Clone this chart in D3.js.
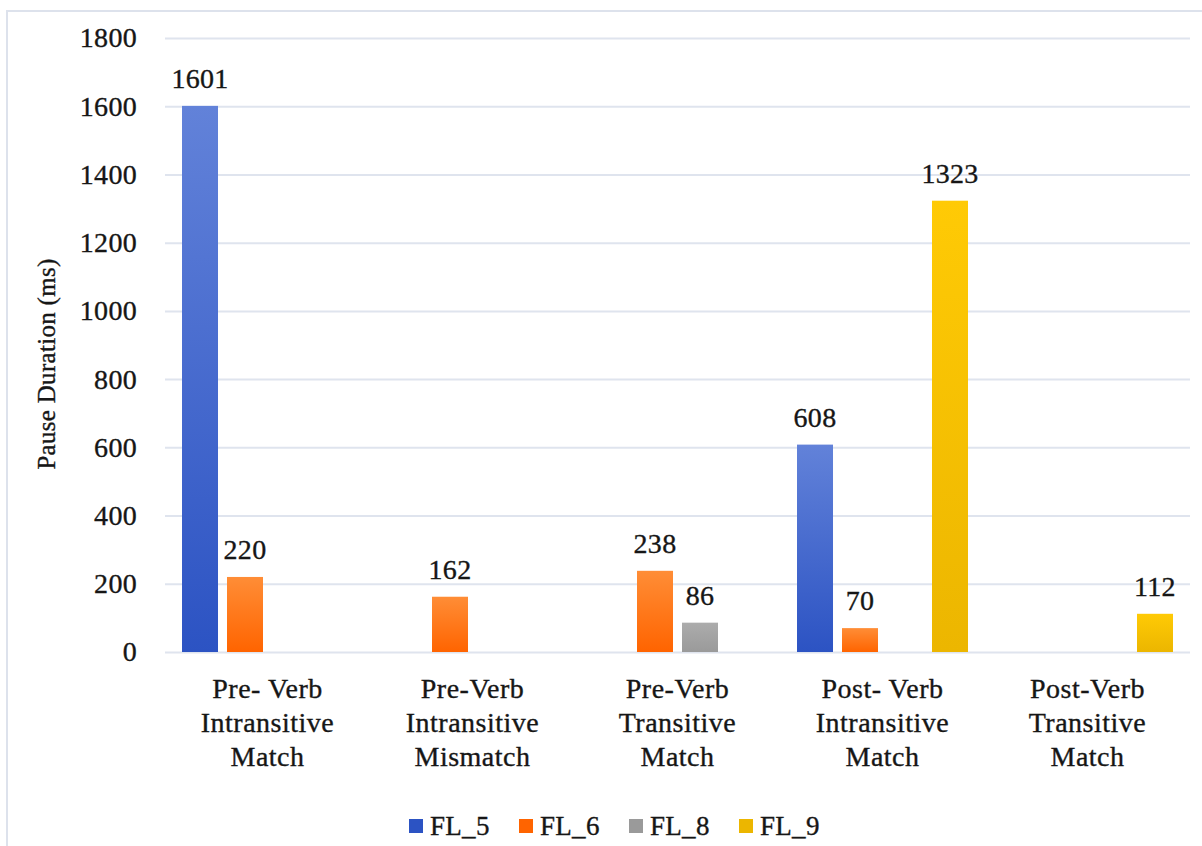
<!DOCTYPE html>
<html>
<head>
<meta charset="utf-8">
<script src="https://cdn.jsdelivr.net/npm/d3@7"></script>
<style>
  html, body { margin: 0; padding: 0; background: #ffffff; }
  svg { display: block; }
  svg text { font-family: "Liberation Serif", "Times New Roman", Times, serif; fill: #161616;
             stroke: #161616; stroke-width: 0.35px; }
</style>
</head>
<body>
<svg id="chart" width="1202" height="846"></svg>
<script>
// Pause duration (ms) by condition, one bar per speaker
const categories = [
  ["Pre- Verb", "Intransitive", "Match"],
  ["Pre-Verb", "Intransitive", "Mismatch"],
  ["Pre-Verb", "Transitive", "Match"],
  ["Post- Verb", "Intransitive", "Match"],
  ["Post-Verb", "Transitive", "Match"]
];
const seriesNames = ["FL_5", "FL_6", "FL_8", "FL_9"];
const FL_5 = [1601, null, null, 608, null];
const FL_6 = [220, 162, 238, 70, null];
const FL_8 = [null, null, 86, null, null];
const FL_9 = [null, null, null, 1323, 112];
const seriesValues = [FL_5, FL_6, FL_8, FL_9];
const yTicks = [0, 200, 400, 600, 800, 1000, 1200, 1400, 1600, 1800];
const yTitle = "Pause Duration (ms)";

// top / bottom colours of each series' vertical gradient
const palette = [
  ["#6282d9", "#2c53c3"],
  ["#ff8d36", "#ff6400"],
  ["#acacac", "#9a9a9a"],
  ["#ffca05", "#ecb600"]
];

const FONT = "'Liberation Serif', 'Times New Roman', Times, serif";
const svg = d3.select("#chart");
const plot = { left: 165, right: 1190, top: 38, bottom: 652 };

// outer frame
svg.append("rect")
  .attr("x", 7).attr("y", 11)
  .attr("width", 1210).attr("height", 860)
  .attr("fill", "none")
  .attr("stroke", "#dde2ec")
  .attr("stroke-width", 2);

const catKeys = categories.map((c, i) => i);
const x0 = d3.scaleBand().domain(catKeys).range([plot.left, plot.right]).padding(0);
const x1 = d3.scaleBand().domain(seriesNames)
  .range([0, x0.bandwidth()])
  .paddingInner(0.2).paddingOuter(0.378);
const y = d3.scaleLinear().domain([0, 1800]).range([plot.bottom, plot.top]);

// gradients
const defs = svg.append("defs");
seriesNames.forEach((name, i) => {
  const g = defs.append("linearGradient")
    .attr("id", "grad-" + name)
    .attr("x1", 0).attr("y1", 0).attr("x2", 0).attr("y2", 1);
  g.append("stop").attr("offset", "0%").attr("stop-color", palette[i][0]);
  g.append("stop").attr("offset", "100%").attr("stop-color", palette[i][1]);
});

// horizontal gridlines and tick labels
const yAxis = d3.axisLeft(y).tickValues(yTicks)
  .tickSize(-(plot.right - plot.left)).tickPadding(28)
  .tickFormat(d3.format("d"));
const gy = svg.append("g")
  .attr("transform", `translate(${plot.left},0)`)
  .call(yAxis)
  .attr("font-family", FONT);
gy.select(".domain").remove();
gy.selectAll(".tick line").attr("stroke", "#dfe4ee").attr("stroke-width", 2);
gy.selectAll(".tick text")
  .attr("font-size", 28)
  .attr("font-family", FONT)
  .attr("letter-spacing", 0.3);

// y axis title
svg.append("text")
  .attr("transform", `translate(55,${(plot.top + plot.bottom) / 2 + 19}) rotate(-90)`)
  .attr("text-anchor", "middle")
  .attr("font-family", FONT)
  .attr("font-size", 25)
  .attr("letter-spacing", 0.3)
  .text(yTitle);

// bars
const bars = [];
seriesNames.forEach((name, si) => {
  seriesValues[si].forEach((v, ci) => {
    if (v != null) bars.push({ name, si, ci, v });
  });
});

const gBars = svg.append("g");
gBars.selectAll("rect")
  .data(bars)
  .join("rect")
  .attr("x", d => x0(d.ci) + x1(d.name))
  .attr("y", d => y(d.v))
  .attr("width", x1.bandwidth())
  .attr("height", d => y(0) - y(d.v))
  .attr("fill", d => `url(#grad-${d.name})`);

// value labels
gBars.selectAll("text.value")
  .data(bars)
  .join("text")
  .attr("class", "value")
  .attr("x", d => x0(d.ci) + x1(d.name) + x1.bandwidth() / 2)
  .attr("y", d => y(d.v) - 18)
  .attr("text-anchor", "middle")
  .attr("font-family", FONT)
  .attr("font-size", 28)
  .attr("letter-spacing", 0.3)
  .text(d => d.v);

// category labels (three lines each)
const gCat = svg.append("g");
categories.forEach((lines, ci) => {
  const cx = x0(ci) + x0.bandwidth() / 2;
  const t = gCat.append("text")
    .attr("text-anchor", "middle")
    .attr("font-family", FONT)
    .attr("font-size", 28)
    .attr("letter-spacing", 0.5)
    .attr("x", cx)
    .attr("y", 698);
  lines.forEach((ln, li) => {
    t.append("tspan")
      .attr("x", cx)
      .attr("dy", li === 0 ? 0 : 34)
      .text(ln);
  });
});

// legend
const legend = svg.append("g").attr("transform", "translate(409,819)");
const legendStep = 110;
seriesNames.forEach((name, i) => {
  const g = legend.append("g").attr("transform", `translate(${i * legendStep},0)`);
  g.append("rect").attr("width", 14).attr("height", 14)
    .attr("fill", palette[i][1]);
  g.append("text").attr("x", 21).attr("y", 16)
    .attr("font-family", FONT)
    .attr("font-size", 27)
    .attr("letter-spacing", 0.3)
    .text(name);
});
</script>
</body>
</html>
